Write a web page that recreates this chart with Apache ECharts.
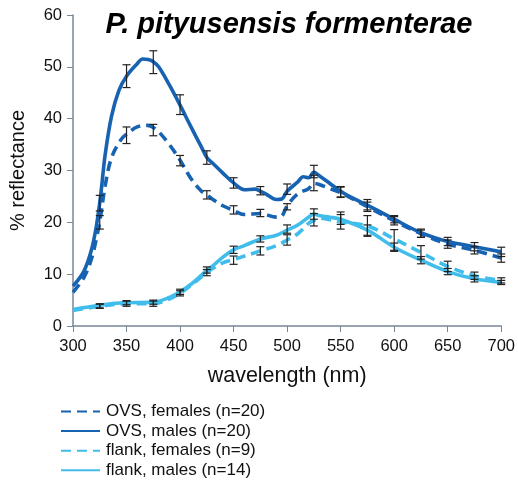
<!DOCTYPE html>
<html lang="en">
<head>
    <meta charset="UTF-8">
    <title>P. pityusensis formenterae</title>
    <script src="https://cdn.jsdelivr.net/npm/echarts/dist/echarts.min.js"></script>
    <style>
        body { margin: 0; padding: 0; background: #fff; }
        #chart { width: 518px; height: 483px; }
    </style>
</head>
<body>
    <div id="chart"></div>

    <script>
        // spectra: [wavelength, % reflectance]
        const ovsFemales = [[300,6.5],[310,9.3],[317,12.8],[322,17],[326,21.5],[330,27],[336,32.5],[345,36],[350,37],[360,38.4],[370,38.7],[375,38.3],[380,37.5],[390,35],[400,32],[410,28.5],[420,26],[425,25.3],[430,24.5],[440,23.2],[450,22.3],[460,21.5],[475,21.7],[490,21],[495,21.2],[500,23.2],[510,25.5],[520,26.5],[525,27.5],[530,27.3],[540,26.5],[550,25.7],[575,23],[600,20.3],[625,17.8],[650,15.8],[675,14.6],[700,13.1]];
        const ovsMales = [[300,7.7],[310,10.5],[317,14.5],[322,19.5],[326,25.5],[330,33],[336,40.5],[343,45.5],[350,48.2],[360,50.6],[365,51.5],[370,51.4],[375,51],[380,50],[390,46.5],[400,42.6],[410,38.5],[420,34.5],[425,32.5],[430,31.5],[440,29.5],[450,27.6],[460,26.3],[470,26.4],[475,26],[480,25.5],[490,24.4],[495,24.5],[500,26],[510,27.8],[515,28.8],[520,28.6],[525,29.7],[530,29],[540,27.5],[550,26],[560,24.8],[575,23.3],[600,20.6],[625,18],[650,16.3],[675,15.3],[700,14.3]];
        const flankFemales = [[300,3.0],[325,3.8],[350,4.3],[375,4.3],[390,5.2],[400,6.3],[410,7.8],[425,10.3],[440,12.2],[450,12.8],[475,14.5],[490,15.5],[500,16.6],[510,17.8],[520,19.8],[525,20.4],[530,20.8],[540,20.5],[550,20.1],[575,19.3],[600,16.8],[625,14.2],[650,11.5],[675,9.7],[700,8.8]];
        const flankMales = [[300,3.2],[325,4.0],[340,4.4],[350,4.5],[375,4.6],[390,5.5],[400,6.6],[410,8],[420,9.8],[425,10.8],[430,11.5],[440,13.3],[450,14.7],[460,15.5],[475,16.8],[490,17.5],[500,18.5],[510,19.5],[520,21],[525,21.6],[530,21.3],[540,21],[550,20.6],[575,18.5],[600,15.2],[625,12.7],[650,10.5],[675,9.1],[700,8.4]];

        // error bars: [wavelength, mean, half-range]
        const ovsFemalesErr = [[325,20,1.3],[350,36.8,1.6],[375,37.8,1.1],[400,31.9,1],[425,25.3,0.8],[450,22.4,0.8],[475,21.8,0.7],[500,23,0.6],[525,27.6,1.5],[550,25.8,1],[575,23,0.9],[600,20.3,0.8],[625,17.8,0.7],[650,15.8,0.8],[675,14.6,0.7],[700,13.1,0.8]];
        const ovsMalesErr = [[325,23.7,1.5],[350,48.2,2.2],[375,50.9,2.2],[400,42.7,1.9],[425,32.5,1.3],[450,27.6,1],[475,26.1,0.8],[500,26.4,1],[525,29.8,1.2],[550,25.9,1],[575,23.4,1],[600,20.6,0.7],[625,17.9,0.8],[650,16.3,0.8],[675,15.3,0.8],[700,14.3,0.9]];
        const flankFemalesErr = [[325,3.8,0.4],[350,4.3,0.5],[375,4.3,0.5],[400,6.3,0.5],[425,10.3,0.6],[450,12.7,0.8],[475,14.5,0.8],[500,16.6,1],[525,20.5,1.2],[550,20.1,1.4],[575,19.3,2],[600,16.6,2],[625,14.2,1.3],[650,11.5,1],[675,9.7,0.7],[700,8.8,0.5]];
        const flankMalesErr = [[325,3.9,0.4],[350,4.5,0.4],[375,4.6,0.4],[400,6.6,0.5],[425,10.8,0.6],[450,14.7,0.7],[475,16.8,0.6],[500,18.7,0.8],[525,21.6,1],[550,20.8,1.2],[575,18.5,1],[600,15.2,0.8],[625,12.7,0.7],[650,10.5,0.6],[675,9.1,0.6],[700,8.4,0.4]];

        const dark = '#1763b2';
        const light = '#41bdec';

        function lineSeries(name, data, color, dashed) {
            return {
                name: name,
                type: 'line',
                data: data,
                smooth: 0.35,
                symbol: 'none',
                itemStyle: { color: color },
                lineStyle: { color: color, width: 3.6, type: dashed ? [10, 6] : 'solid' },
                z: 2
            };
        }

        function errSeries(data) {
            return {
                type: 'custom',
                data: data,
                z: 5,
                silent: true,
                renderItem: function (params, api) {
                    const x = api.value(0), m = api.value(1), e = api.value(2);
                    const top = api.coord([x, m + e]);
                    const bot = api.coord([x, m - e]);
                    const w = 4;
                    const style = { stroke: '#222', lineWidth: 1.2 };
                    return {
                        type: 'group',
                        children: [
                            { type: 'line', shape: { x1: top[0], y1: top[1], x2: bot[0], y2: bot[1] }, style: style },
                            { type: 'line', shape: { x1: top[0] - w, y1: top[1], x2: top[0] + w, y2: top[1] }, style: style },
                            { type: 'line', shape: { x1: bot[0] - w, y1: bot[1], x2: bot[0] + w, y2: bot[1] }, style: style }
                        ]
                    };
                }
            };
        }

        const chart = echarts.init(document.getElementById('chart'));
        const font = 'Liberation Sans, Arial, sans-serif';

        chart.setOption({
            animation: false,
            textStyle: { fontFamily: font },
            title: {
                text: 'P. pityusensis formenterae',
                left: 284, top: 5,
                textAlign: 'center',
                textStyle: { fontSize: 29, fontWeight: 'bold', fontStyle: 'italic', color: '#000', fontFamily: font }
            },
            grid: { left: 71, right: 14, top: 15, bottom: 157 },
            legend: {
                orient: 'vertical',
                left: 55, top: 398,
                height: 120,
                itemWidth: 39, itemHeight: 14,
                itemGap: 2.6,
                itemStyle: { opacity: 0 },
                textStyle: { fontSize: 17, lineHeight: 17, color: '#111', fontFamily: font, padding: [0, 0, 0, 1] },
                data: ['OVS, females (n=20)', 'OVS, males (n=20)', 'flank, females (n=9)', 'flank, males (n=14)']
            },
            xAxis: {
                type: 'value',
                min: 300, max: 700, interval: 50,
                name: 'wavelength (nm)',
                nameLocation: 'middle',
                nameGap: 39,
                nameTextStyle: { fontSize: 21.5, color: '#111' },
                axisLine: { lineStyle: { color: '#7a8794', width: 1.5 } },
                axisTick: { lineStyle: { color: '#7a8794' }, length: 6 },
                axisLabel: { fontSize: 16.5, color: '#111', margin: 12 },
                splitLine: { show: false }
            },
            yAxis: {
                type: 'value',
                min: 0, max: 60, interval: 10,
                name: '% reflectance',
                nameLocation: 'middle',
                nameGap: 45,
                nameTextStyle: { fontSize: 20, color: '#111' },
                axisLine: { show: true, lineStyle: { color: '#7a8794', width: 1.5 } },
                axisTick: { show: true, lineStyle: { color: '#7a8794' }, length: 6 },
                axisLabel: { fontSize: 16.5, color: '#111', margin: 11 },
                splitLine: { show: false }
            },
            series: [
                lineSeries('OVS, females (n=20)', ovsFemales, dark, true),
                lineSeries('OVS, males (n=20)', ovsMales, dark, false),
                lineSeries('flank, females (n=9)', flankFemales, light, true),
                lineSeries('flank, males (n=14)', flankMales, light, false),
                errSeries(ovsFemalesErr),
                errSeries(ovsMalesErr),
                errSeries(flankFemalesErr),
                errSeries(flankMalesErr)
            ]
        });
    </script>
</body>
</html>
